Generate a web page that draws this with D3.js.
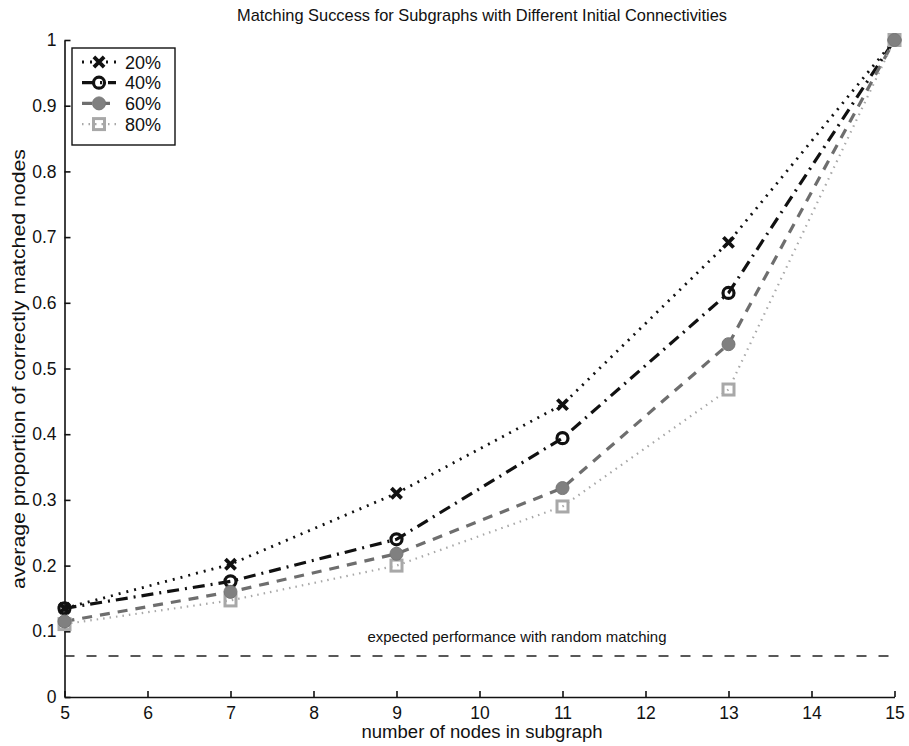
<!DOCTYPE html>
<html>
<head>
<meta charset="utf-8">
<script src="https://cdn.jsdelivr.net/npm/d3@7"></script>
<style>
  body { margin: 0; background: #fff; }
  text { font-family: "Liberation Sans", Arial, sans-serif; fill: #111; }
</style>
</head>
<body>
<script>
// chart data
var nodes = [5, 7, 9, 11, 13, 15];
var conn20 = [0.135, 0.202, 0.310, 0.445, 0.692, 1.0];
var conn40 = [0.135, 0.176, 0.240, 0.394, 0.615, 1.0];
var conn60 = [0.115, 0.160, 0.218, 0.318, 0.537, 1.0];
var conn80 = [0.111, 0.147, 0.200, 0.290, 0.468, 1.0];
var randomLevel = 0.0625;
var xTicks = [5, 6, 7, 8, 9, 10, 11, 12, 13, 14, 15];
var yTicks = [0, 0.1, 0.2, 0.3, 0.4, 0.5, 0.6, 0.7, 0.8, 0.9, 1];

var w = 909, h = 746;
var svg = d3.select("body").append("svg")
            .attr("width", w)
            .attr("height", h);

var x = d3.scaleLinear().domain([5, 15]).range([64.5, 894.5]);
var y = d3.scaleLinear().domain([0, 1]).range([697, 40]);

// axes, ticks pointing inward like matlab
svg.append("g")
   .attr("transform", "translate(0," + y(0) + ")")
   .call(d3.axisBottom(x).tickValues(xTicks).tickSizeInner(-6).tickSizeOuter(0).tickPadding(10));
svg.append("g")
   .attr("transform", "translate(" + x(5) + ",0)")
   .call(d3.axisLeft(y).tickValues(yTicks).tickSizeInner(-6).tickSizeOuter(0).tickPadding(8)
         .tickFormat(function (d) { return d === 0 || d === 1 ? d3.format("d")(d) : d3.format(".1f")(d); }));
svg.selectAll(".tick text").style("font-size", "17.5px").style("font-family", "Liberation Sans, Arial, sans-serif").attr("fill", "#111");
svg.selectAll(".domain, .tick line").attr("stroke", "#111").attr("stroke-width", 1.6);

// title + labels
svg.append("text").attr("x", 482).attr("y", 21).attr("text-anchor", "middle")
   .style("font-size", "17px").attr("textLength", 490).attr("lengthAdjust", "spacingAndGlyphs")
   .text("Matching Success for Subgraphs with Different Initial Connectivities");
svg.append("text").attr("x", 482).attr("y", 738).attr("text-anchor", "middle")
   .style("font-size", "18px").attr("textLength", 241).attr("lengthAdjust", "spacingAndGlyphs")
   .text("number of nodes in subgraph");
svg.append("text").attr("transform", "translate(25,369) rotate(-90)").attr("text-anchor", "middle")
   .style("font-size", "18px").attr("textLength", 440).attr("lengthAdjust", "spacingAndGlyphs")
   .text("average proportion of correctly matched nodes");

// random matching baseline
svg.append("line")
   .attr("x1", x(5)).attr("x2", x(15))
   .attr("y1", y(randomLevel)).attr("y2", y(randomLevel))
   .attr("stroke", "#222").attr("stroke-width", 1.5).attr("stroke-dasharray", "10,12");
svg.append("text").attr("x", 517).attr("y", 642).attr("text-anchor", "middle")
   .style("font-size", "14.5px").attr("textLength", 299).attr("lengthAdjust", "spacingAndGlyphs")
   .text("expected performance with random matching");

var series = [
  { name: "20%", values: conn20, color: "#111", width: 2.8, dash: "2,6", marker: "x" },
  { name: "40%", values: conn40, color: "#111", width: 3.2, dash: "12,6,2,6", marker: "o" },
  { name: "60%", values: conn60, color: "#6e6e6e", width: 3.2, dash: "10,8", marker: "dot" },
  { name: "80%", values: conn80, color: "#a8a8a8", width: 2.2, dash: "1.5,5", marker: "sq" }
];

var line = d3.line()
  .x(function (d, i) { return x(nodes[i]); })
  .y(function (d) { return y(d); });

function drawMarker(g, s, cx, cy) {
  if (s.marker === "x") {
    g.append("path").attr("d", d3.symbol(d3.symbolX, 70)())
     .attr("transform", "translate(" + cx + "," + cy + ")")
     .attr("stroke", s.color).attr("stroke-width", 3.8).attr("fill", "none");
  } else if (s.marker === "o") {
    g.append("circle").attr("cx", cx).attr("cy", cy).attr("r", 5.5)
     .attr("fill", "none").attr("stroke", s.color).attr("stroke-width", 3.2);
  } else if (s.marker === "dot") {
    g.append("circle").attr("cx", cx).attr("cy", cy).attr("r", 6.5)
     .attr("fill", "#808080").attr("stroke", "#777").attr("stroke-width", 1);
  } else {
    g.append("rect").attr("x", cx - 5.5).attr("y", cy - 5.5).attr("width", 11).attr("height", 11)
     .attr("fill", "none").attr("stroke", s.color).attr("stroke-width", 3);
  }
}

series.forEach(function (s) {
  svg.append("path").datum(s.values)
     .attr("d", line)
     .attr("fill", "none")
     .attr("stroke", s.color)
     .attr("stroke-width", s.width)
     .attr("stroke-dasharray", s.dash);
});
// markers: squares under the gray dots so the dot shows on top at n=15
[series[0], series[1], series[3], series[2]].forEach(function (s) {
  var g = svg.append("g");
  s.values.forEach(function (v, i) { drawMarker(g, s, x(nodes[i]), y(v)); });
});

// legend
var lg = svg.append("g");
lg.append("rect").attr("x", 72).attr("y", 48).attr("width", 103).attr("height", 97)
  .attr("fill", "#fff").attr("stroke", "#111").attr("stroke-width", 1.4);
series.forEach(function (s, i) {
  var ly = 62 + i * 20.7;
  lg.append("line").attr("x1", 82).attr("x2", 116).attr("y1", ly).attr("y2", ly)
    .attr("stroke", s.color).attr("stroke-width", s.width).attr("stroke-dasharray", s.dash);
  drawMarker(lg, s, 99, ly);
  lg.append("text").attr("x", 125).attr("y", ly + 6.5).style("font-size", "18px").text(s.name);
});
</script>
</body>
</html>
